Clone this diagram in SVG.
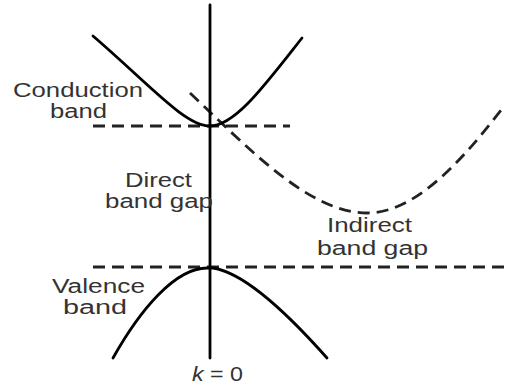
<svg xmlns="http://www.w3.org/2000/svg" width="506" height="387" viewBox="0 0 506 387">
<style>
.solid{fill:none;stroke:#000;stroke-width:2.8;stroke-linecap:round}
.dash{fill:none;stroke:#222;stroke-width:2.8;stroke-dasharray:12 7}
.lbl{font-family:"Liberation Sans",Arial,sans-serif;font-size:20px;fill:#333}
</style>
<rect width="506" height="387" fill="#fff"/>
<g id="connectors">
<path class="dash" d="M93,126 H290"/>
<path class="dash" d="M93,267 H506"/>
<path class="dash" d="M190,93 C250,150 310,213 367,213 C420,213 470,150 505,105"/>
</g>
<g id="axis"><path class="solid" d="M210,5 V358"/></g>
<g id="conduction-band"><path class="solid" d="M93,36 C150,85 185,126 210,126 C235,126 265,85 302,38"/></g>
<g id="valence-band"><path class="solid" d="M113,358 C140,310 175,268 207,268 L213,268 C240,272 280,305 327,358"/></g>
<g id="label-conduction">
<text class="lbl" x="13" y="97" textLength="130" lengthAdjust="spacingAndGlyphs">Conduction</text>
<text class="lbl" x="50" y="118" textLength="57" lengthAdjust="spacingAndGlyphs">band</text>
</g>
<g id="label-direct">
<text class="lbl" x="125" y="187" textLength="67" lengthAdjust="spacingAndGlyphs">Direct</text>
<text class="lbl" x="105" y="208" textLength="108" lengthAdjust="spacingAndGlyphs">band gap</text>
</g>
<g id="label-indirect">
<text class="lbl" x="327" y="232" textLength="85" lengthAdjust="spacingAndGlyphs">Indirect</text>
<text class="lbl" x="317" y="255" textLength="111" lengthAdjust="spacingAndGlyphs">band gap</text>
</g>
<g id="label-valence">
<text class="lbl" x="52" y="293" textLength="93" lengthAdjust="spacingAndGlyphs">Valence</text>
<text class="lbl" x="63" y="314" textLength="64" lengthAdjust="spacingAndGlyphs">band</text>
</g>
<g id="label-k">
<text class="lbl" x="192" y="381" textLength="51" lengthAdjust="spacingAndGlyphs"><tspan font-style="italic">k</tspan> = 0</text>
</g>
</svg>
